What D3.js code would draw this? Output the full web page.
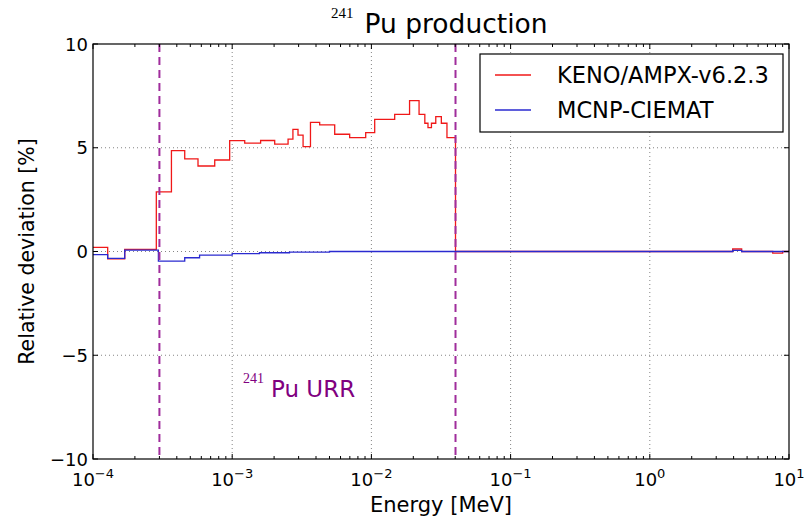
<!DOCTYPE html>
<html><head><meta charset="utf-8">
<script src="https://cdn.jsdelivr.net/npm/d3@7"></script>
<style>body{margin:0;background:#fff;} svg{display:block;}</style>
</head><body>
<svg id="c" width="805" height="516"></svg>
<script>
// ---- data ----
const redEdges = [1e-4, 1.275e-4, 1.69e-4, 2.85e-4, 3.66e-4, 4.56e-4, 5.68e-4, 7.49e-4, 9.59e-4, 1.23e-3, 1.6e-3, 2.02e-3, 2.52e-3, 2.73e-3, 2.97e-3, 3.23e-3, 3.65e-3, 4.25e-3, 5.45e-3, 6.98e-3, 9.1e-3, 1.056e-2, 1.47e-2, 1.88e-2, 2.2e-2, 2.42e-2, 2.55e-2, 2.7e-2, 2.9e-2, 3.18e-2, 3.49e-2, 4.02e-2, 3.94, 4.57, 7.64, 9.0, 10];
const redVals = [0.2, -0.35, 0.1, 2.87, 4.86, 4.46, 4.12, 4.41, 5.34, 5.22, 5.35, 5.17, 5.42, 5.89, 5.61, 5.05, 6.22, 6.1, 5.65, 5.49, 5.73, 6.37, 6.61, 7.27, 6.61, 6.18, 5.97, 6.18, 6.5, 6.18, 5.49, 0, 0.12, 0, -0.08, 0];
const blueEdges = [1e-4, 1.275e-4, 1.69e-4, 2.95e-4, 4.56e-4, 5.83e-4, 1.0e-3, 1.57e-3, 2.58e-3, 5.0e-3, 3.94, 4.57, 10];
const blueVals = [-0.15, -0.33, 0.07, -0.46, -0.3, -0.17, -0.1, -0.06, -0.03, 0, 0.05, 0];
const seriesNames = ["KENO/AMPX-v6.2.3", "MCNP-CIEMAT"];
const urrBounds = [3e-4, 4.02e-2];
const xDecades = [-4, -3, -2, -1, 0, 1];
const yTicks = [-10, -5, 0, 5, 10];

// ---- layout ----
const L = 93, R = 789, T = 44, B = 459;
const svg = d3.select("#c");
const x = d3.scaleLog().domain([1e-4, 10]).range([L, R]);
const y = d3.scaleLinear().domain([-10, 10]).range([B, T]);
const font = "'DejaVu Sans', sans-serif";

svg.append("rect").attr("width", 805).attr("height", 516).attr("fill", "#fff");

// grid
const g = svg.append("g");
xDecades.slice(1, -1).forEach(k => {
  g.append("line").attr("x1", x(Math.pow(10, k))).attr("x2", x(Math.pow(10, k)))
   .attr("y1", T).attr("y2", B).attr("stroke", "#666").attr("stroke-width", 0.8).attr("stroke-dasharray", "1,3");
});
yTicks.slice(1, -1).forEach(v => {
  g.append("line").attr("x1", L).attr("x2", R).attr("y1", y(v)).attr("y2", y(v))
   .attr("stroke", "#666").attr("stroke-width", 0.8).attr("stroke-dasharray", "1,3");
});

// step lines
function stepPts(edges, vals) {
  const p = vals.map((v, i) => [edges[i], v]);
  p.push([edges[edges.length - 1], vals[vals.length - 1]]);
  return p;
}
const line = d3.line().x(d => x(d[0])).y(d => y(d[1])).curve(d3.curveStepAfter);
svg.append("path").attr("d", line(stepPts(redEdges, redVals))).attr("fill", "none")
  .attr("stroke", "#f01818").attr("stroke-width", 1.3);
svg.append("path").attr("d", line(stepPts(blueEdges, blueVals))).attr("fill", "none")
  .attr("stroke", "#2a2ad0").attr("stroke-width", 1.3);

// URR dashed lines
urrBounds.forEach(e => {
  svg.append("line").attr("x1", x(e)).attr("x2", x(e)).attr("y1", T).attr("y2", B)
    .attr("stroke", "#a02d9c").attr("stroke-width", 2).attr("stroke-dasharray", "8,5");
});

// URR label
const ut = svg.append("text").attr("x", 243).attr("y", 397).attr("fill", "#800080")
  .attr("font-family", font).attr("font-size", 23);
ut.append("tspan").attr("font-family", "'Liberation Serif', serif").attr("font-size", 14).attr("dy", -14).text("241");
ut.append("tspan").attr("dy", 14).attr("dx", 7).text("Pu URR");

// frame
svg.append("rect").attr("x", L).attr("y", T).attr("width", R - L).attr("height", B - T)
  .attr("fill", "none").attr("stroke", "#000").attr("stroke-width", 1.2);

// x ticks (major + minor), top and bottom, inward
const tk = svg.append("g").attr("stroke", "#000").attr("stroke-width", 1);
for (let k = -4; k <= 1; k++) {
  for (let m = 1; m <= 9; m++) {
    const e = m * Math.pow(10, k);
    if (e > 10) break;
    const len = m === 1 ? 5 : 3;
    const xx = x(e);
    tk.append("line").attr("x1", xx).attr("x2", xx).attr("y1", B).attr("y2", B - len);
    tk.append("line").attr("x1", xx).attr("x2", xx).attr("y1", T).attr("y2", T + len);
  }
}
yTicks.forEach(v => {
  tk.append("line").attr("x1", L).attr("x2", L + 5).attr("y1", y(v)).attr("y2", y(v));
  tk.append("line").attr("x1", R).attr("x2", R - 5).attr("y1", y(v)).attr("y2", y(v));
});

// y tick labels
yTicks.forEach(v => {
  svg.append("text").attr("x", L - 5).attr("y", y(v) + 6.5).attr("text-anchor", "end")
    .attr("font-family", font).attr("font-size", 18).attr("fill", "#000")
    .text(v < 0 ? "\u2212" + Math.abs(v) : String(v));
});
// x tick labels
xDecades.forEach(k => {
  const t = svg.append("text").attr("x", x(Math.pow(10, k))).attr("y", 486).attr("text-anchor", "middle")
    .attr("font-family", font).attr("font-size", 18).attr("fill", "#000");
  t.append("tspan").text("10");
  t.append("tspan").attr("font-size", 13).attr("dy", -8).text(k < 0 ? "\u2212" + Math.abs(k) : String(k));
});

// axis labels
svg.append("text").attr("x", (L + R) / 2).attr("y", 512).attr("text-anchor", "middle")
  .attr("font-family", font).attr("font-size", 21).text("Energy [MeV]");
svg.append("text").attr("transform", `translate(34,${(T + B) / 2}) rotate(-90)`).attr("text-anchor", "middle")
  .attr("font-family", font).attr("font-size", 20.5).text("Relative deviation [%]");

// title
const tt = svg.append("text").attr("x", 331).attr("y", 33).attr("font-family", font).attr("font-size", 26.5);
tt.append("tspan").attr("font-family", "'Liberation Serif', serif").attr("font-size", 15).attr("dy", -15).text("241");
tt.append("tspan").attr("dy", 15).attr("dx", 11).text("Pu production");

// legend
const lg = svg.append("g");
lg.append("rect").attr("x", 480).attr("y", 54).attr("width", 303).attr("height", 78)
  .attr("fill", "#fff").attr("stroke", "#000").attr("stroke-width", 1.2);
const lcol = ["#f01818", "#2a2ad0"];
seriesNames.forEach((n, i) => {
  const yy = 75 + i * 35;
  lg.append("line").attr("x1", 495).attr("x2", 531).attr("y1", yy).attr("y2", yy)
    .attr("stroke", lcol[i]).attr("stroke-width", 1.3);
  lg.append("text").attr("x", 557).attr("y", yy + 8).attr("font-family", font).attr("font-size", 22.5).text(n);
});
</script>
</body></html>
